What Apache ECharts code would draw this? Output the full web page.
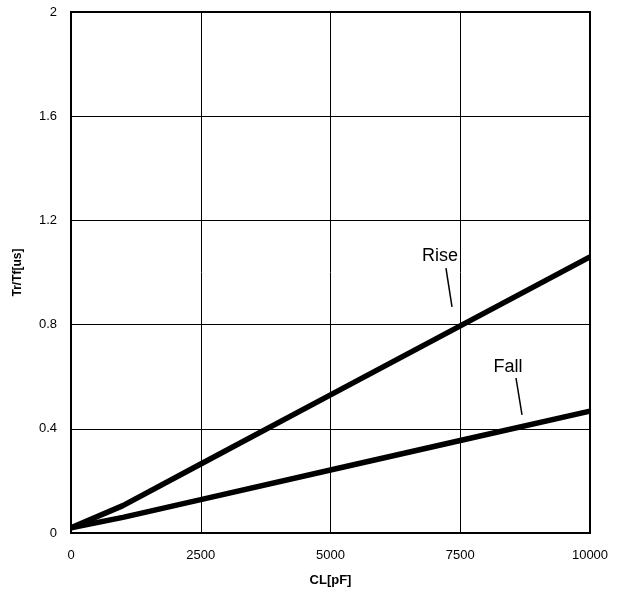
<!DOCTYPE html>
<html><head><meta charset="utf-8">
<script src="https://cdn.jsdelivr.net/npm/echarts@6/dist/echarts.min.js"></script>
<style>html,body{margin:0;padding:0;background:#fff}#c{width:629px;height:593px}</style>
</head><body><div id="c"></div>
<script>
var capacitance = [0, 1000, 2500, 5000, 7500, 10000];
var riseTime = [0.02, 0.105, 0.265, 0.53, 0.795, 1.06];
var fallTime = [0.02, 0.06, 0.128, 0.242, 0.355, 0.468];
var riseLabel = {text: 'Rise', at: [7110, 1.063], leader: [[7225, 1.017], [7341, 0.868]]};
var fallLabel = {text: 'Fall', at: [8420, 0.637], leader: [[8574, 0.595], [8690, 0.453]]};

function pairs(xs, ys){ return xs.map(function(x,i){return [x, ys[i]];}); }
var FONT = '"Liberation Sans", Arial, sans-serif';
function ann(a){
  return {
    markPoint: {symbol: 'circle', symbolSize: 0, silent: true,
      label: {show: true, formatter: a.text, color: '#000', fontSize: 18, fontFamily: FONT, position: 'inside'},
      data: [{coord: a.at}]},
    markLine: {symbol: 'none', silent: true, label: {show: false},
      lineStyle: {color: '#000', width: 1.5, type: 'solid'},
      data: [[{coord: a.leader[0]}, {coord: a.leader[1]}]]}
  };
}
var chart = echarts.init(document.getElementById('c'));
var rs = ann(riseLabel), fs = ann(fallLabel);
chart.setOption({
  animation: false,
  grid: {left: 71, right: 39, top: 12, bottom: 60, show: true, borderColor: '#000', borderWidth: 2},
  xAxis: {type: 'value', min: 0, max: 10000, interval: 2500,
    name: 'CL[pF]', nameLocation: 'middle', nameGap: 41,
    nameTextStyle: {fontFamily: FONT, fontWeight: 'bold', fontSize: 13, color: '#000'},
    axisLine: {show: false}, axisTick: {show: false},
    axisLabel: {fontFamily: FONT, fontSize: 13, color: '#000', margin: 16, formatter: function(v){return String(v);}},
    splitLine: {lineStyle: {color: '#000', width: 1}}},
  yAxis: {type: 'value', min: 0, max: 2, interval: 0.4,
    name: 'Tr/Tf[us]', nameLocation: 'middle', nameGap: 47,
    nameTextStyle: {fontFamily: FONT, fontWeight: 'bold', fontSize: 12, color: '#000'},
    axisLine: {show: false}, axisTick: {show: false},
    axisLabel: {fontFamily: FONT, fontSize: 13, color: '#000', margin: 14, padding: [5, 0, 0, 0]},
    splitLine: {lineStyle: {color: '#000', width: 1}}},
  series: [
    {type: 'line', data: pairs(capacitance, riseTime), symbol: 'none',
     lineStyle: {color: '#000', width: 5.5}, markPoint: rs.markPoint, markLine: rs.markLine},
    {type: 'line', data: pairs(capacitance, fallTime), symbol: 'none',
     lineStyle: {color: '#000', width: 5.5}, markPoint: fs.markPoint, markLine: fs.markLine}
  ]
});
</script></body></html>
